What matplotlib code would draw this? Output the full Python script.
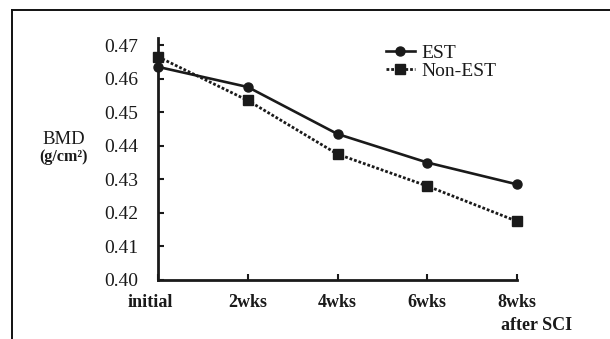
import matplotlib
matplotlib.use("Agg")
import matplotlib.pyplot as plt
import matplotlib.transforms as mtrans
from matplotlib.lines import Line2D

plt.rcParams['font.family'] = ['Liberation Serif', 'DejaVu Serif']

categories = ["initial", "2wks", "4wks", "6wks", "8wks"]
est = [0.4635, 0.4575, 0.4435, 0.435, 0.4285]
non_est = [0.4665, 0.4535, 0.4375, 0.428, 0.4175]
yticks = [0.40, 0.41, 0.42, 0.43, 0.44, 0.45, 0.46, 0.47]

W, H = 610, 339
fig = plt.figure(figsize=(W / 100, H / 100), dpi=100)
ax = fig.add_axes([158 / W, 1 - 280 / H, (517 - 158) / W, (280 - 38) / H])

x = list(range(len(categories)))
ax.plot(x, est, color='#1a1a1a', lw=1.9, marker='o', ms=6.5, label='EST', clip_on=False)
ax.plot(x, non_est, color='#1a1a1a', lw=2.0, ls=(0, (1, 0.7)), marker='s', ms=6.5,
        label='Non-EST', clip_on=False)

ax.set_xlim(0, 4)
ax.set_ylim(0.40, 0.4721)
ax.set_yticks(yticks)
ax.set_yticklabels([f"{v:.2f}" for v in yticks], fontsize=14)
ax.set_xticks(x)
ax.set_xticklabels(categories, fontsize=13, fontweight='bold')
ax.tick_params(axis='y', direction='in', length=4, width=1.5, pad=14, color='#1a1a1a',
               labelcolor='#1a1a1a')
ax.tick_params(axis='x', direction='in', length=4, width=1.5, pad=10, color='#1a1a1a',
               labelcolor='#1a1a1a')
# shift the "initial" label slightly left
lbl0 = ax.get_xticklabels()[0]
lbl0.set_transform(lbl0.get_transform() + mtrans.ScaledTranslation(-8 / 100, 0, fig.dpi_scale_trans))

for s in ['top', 'right']:
    ax.spines[s].set_visible(False)
for s in ['left', 'bottom']:
    ax.spines[s].set_linewidth(2)
    ax.spines[s].set_color('#1a1a1a')

leg = ax.legend(loc='upper left', bbox_to_anchor=((378 - 158) / (517 - 158), 1.005),
                frameon=False, fontsize=14, handlelength=1.5, handletextpad=0.35,
                labelspacing=0.0, borderaxespad=0)
for t in leg.get_texts():
    t.set_color('#1a1a1a')

fig.text(64 / W, 1 - 139 / H, "BMD", ha='center', va='center', fontsize=13.5, color='#1a1a1a')
fig.text(64 / W, 1 - 157 / H, "(g/cm²)", ha='center', va='center', fontsize=11.5,
         fontweight='bold', color='#1a1a1a')
fig.text(537 / W, 1 - 326 / H, "after SCI", ha='center', va='center', fontsize=13,
         fontweight='bold', color='#1a1a1a')

# outer frame (top and left edges)
fig.add_artist(Line2D([12 / W, 1.0], [1 - 9.5 / H, 1 - 9.5 / H], color='#111111', lw=1.4,
                      transform=fig.transFigure))
fig.add_artist(Line2D([12 / W, 12 / W], [0, 1 - 9.5 / H], color='#111111', lw=1.4,
                      transform=fig.transFigure))

fig.savefig("out.png", dpi=100)
